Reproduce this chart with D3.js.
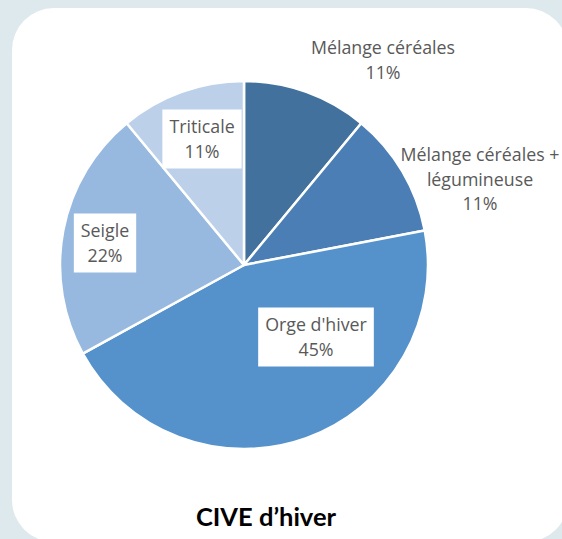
<!DOCTYPE html>
<html>
<head>
<meta charset="utf-8">
<script src="https://cdn.jsdelivr.net/npm/d3@7"></script>
<style>
  body { margin: 0; background: #dde9ec; }
  svg { display: block; }
</style>
</head>
<body>
<div id="chart"></div>
<script>
// chart data, clockwise from 12 o'clock
let categories = ["Mélange céréales", "Mélange céréales + légumineuse", "Orge d'hiver", "Seigle", "Triticale"];
let values = [11, 11, 45, 22, 11];
let pctLabels = ["11%", "11%", "45%", "22%", "11%"];
let colors = ["#41719c", "#4a7eb5", "#5592cb", "#98b9df", "#bcd0ea"];

let width = 562, height = 539;
let cx = 244, cy = 265, radius = 184;

// label placement (offset from pie centre), lines, and whether a white box is drawn
let labelLayout = [
    { dx: 139, dy: -205, lines: ["Mélange céréales"], boxed: false },
    { dx: 236, dy: -86, lines: ["Mélange céréales +", "légumineuse"], boxed: false },
    { dx: 72, dy: 72, lines: ["Orge d'hiver"], boxed: true },
    { dx: -139, dy: -22, lines: ["Seigle"], boxed: true },
    { dx: -42, dy: -126, lines: ["Triticale"], boxed: true }
];

let svg = d3.select("#chart")
    .append("svg")
    .attr("width", width)
    .attr("height", height);

svg.append("rect")
    .attr("width", width)
    .attr("height", height)
    .attr("fill", "#dde9ec");

// white card
svg.append("rect")
    .attr("x", 12)
    .attr("y", 8)
    .attr("width", 556)
    .attr("height", 534)
    .attr("rx", 42)
    .attr("fill", "#ffffff");

let data = categories.map((c, i) => ({ name: c, value: values[i], pct: pctLabels[i], color: colors[i], layout: labelLayout[i] }));

let pie = d3.pie()
    .sort(null)
    .value(d => d.value);

let arc = d3.arc()
    .innerRadius(0)
    .outerRadius(radius);

let plot = svg.append("g")
    .attr("transform", `translate(${cx}, ${cy})`);

plot.selectAll("path")
    .data(pie(data))
    .enter()
    .append("path")
    .attr("d", arc)
    .attr("fill", d => d.data.color)
    .attr("stroke", "#ffffff")
    .attr("stroke-width", 2.5)
    .attr("stroke-linejoin", "round");

// labels
let lineH = 24.5;
let labels = plot.selectAll(".lbl")
    .data(data)
    .enter()
    .append("g")
    .attr("class", "lbl")
    .attr("transform", d => `translate(${d.layout.dx}, ${d.layout.dy})`);

labels.each(function(d) {
    let g = d3.select(this);
    let lines = d.layout.lines.concat([d.pct]);
    let n = lines.length;
    let box = g.append("rect").attr("fill", "#ffffff");
    let txt = g.append("text")
        .attr("text-anchor", "middle")
        .style("font-family", "'Open Sans', sans-serif")
        .style("font-size", "17.8px")
        .attr("fill", "#595959");
    lines.forEach((l, i) => {
        txt.append("tspan")
            .attr("x", 0)
            .attr("y", (i - (n - 1) / 2) * lineH + 6.5)
            .text(l);
    });
    if (d.layout.boxed) {
        let bb = txt.node().getBBox();
        box.attr("x", bb.x - 7)
            .attr("y", -n * lineH / 2 - 5)
            .attr("width", bb.width + 14)
            .attr("height", n * lineH + 10);
    } else {
        box.remove();
    }
});

// title
svg.append("text")
    .attr("x", 266)
    .attr("y", 526)
    .attr("text-anchor", "middle")
    .style("font-family", "Lato, sans-serif")
    .style("font-weight", "bold")
    .style("font-size", "25.5px")
    .attr("fill", "#000000")
    .text("CIVE d\u2019hiver");
</script>
</body>
</html>
